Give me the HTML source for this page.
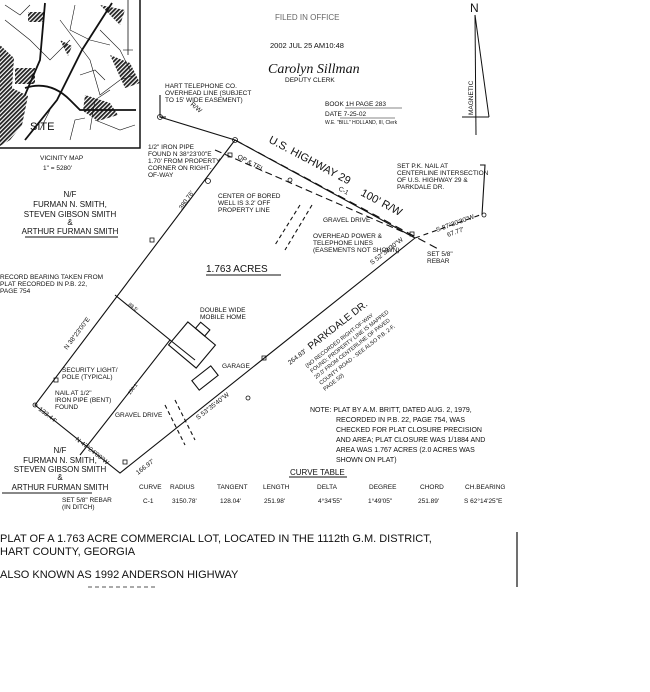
<!DOCTYPE html>
<html><head><meta charset="utf-8"><style>
html,body{margin:0;padding:0;background:#fff;}
svg{display:block;font-family:"Liberation Sans",sans-serif;}
text{fill:#111;}
.s{font-size:6.5px;}
.m{font-size:8px;}
</style></head><body>
<svg width="650" height="692" viewBox="0 0 650 692" xmlns="http://www.w3.org/2000/svg">
<defs><pattern id="h" width="3" height="3" patternUnits="userSpaceOnUse" patternTransform="rotate(45)"><rect width="3" height="3" fill="#fff"/><rect width="1.8" height="3" fill="#222"/></pattern></defs>
<!-- vicinity map -->
<g stroke="#111" fill="none">
<rect x="-2" y="-2" width="142" height="150" stroke-width="1.5"/>
<path d="M0 45 L14 58 L12 88 L28 96 L22 125 L10 140 L0 146 Z" fill="url(#h)" stroke="none"/>
<path d="M15 68 h20 v16 h-20z M28 12 h16 v10 h-16z M85 95 l25 8 l8 12 l-20 6 l-15 -10z" fill="url(#h)" stroke="none"/>
<path d="M110 55 l20 8 l10 20 l-15 5 z M100 5 l25 5 l-5 15 z M60 40 l12 6 l-4 10z" fill="url(#h)" stroke="none"/>
<g stroke-width="1.8"><path d="M112 3 L82 50 L57 100 L25 140"/><path d="M25 88 Q50 80 70 100 L80 110 L136 110"/><path d="M45 3 L40 60 L25 95"/></g>
<g stroke-width="0.6"><path d="M60 20 L90 60 L100 95 L120 80 L135 75"/><path d="M5 20 L30 40 L50 60 L70 40"/><path d="M90 130 L95 100 L110 90"/><path d="M70 140 L75 120 L85 118"/><path d="M100 30 L120 50 L130 70"/><path d="M50 110 L40 130"/><path d="M75 5 L70 30 L90 40 L110 45"/><path d="M5 5 L20 15 L30 5"/><path d="M95 120 L120 130 L135 125"/><path d="M80 75 L95 70 L105 80"/></g>
<line x1="128" y1="0" x2="128" y2="55" stroke-width="0.8"/><line x1="123" y1="50" x2="133" y2="50" stroke-width="0.6"/>
</g>
<text x="30" y="130" style="font-size:11px">SITE</text>
<text x="40" y="160" class="s">VICINITY MAP</text>
<text x="43" y="170" class="s">1" = 5280'</text>
<g class="m" text-anchor="middle"><text x="70" y="197">N/F</text><text x="70" y="207">FURMAN N. SMITH,</text><text x="70" y="217">STEVEN GIBSON SMITH</text><text x="70" y="225">&amp;</text><text x="70" y="234">ARTHUR FURMAN SMITH</text></g>
<line x1="25" y1="237" x2="118" y2="237" stroke="#111"/>
<!-- stamp -->
<text x="275" y="20" style="font-size:8px;fill:#666">FILED IN OFFICE</text>
<text x="270" y="48" style="font-size:7.5px">2002 JUL 25 AM10:48</text>
<text x="268" y="73" style="font-size:14px;font-family:'Liberation Serif',serif;font-style:italic">Carolyn Sillman</text>
<text x="285" y="82" class="s">DEPUTY CLERK</text>
<text x="325" y="106" class="s">BOOK 1H PAGE 283</text>
<text x="325" y="116" class="s">DATE 7-25-02</text>
<text x="325" y="124" style="font-size:5px">W.E. "BILL" HOLLAND, III, Clerk</text>
<line x1="345" y1="108" x2="402" y2="108" stroke="#111" stroke-width=".6"/><line x1="340" y1="118" x2="395" y2="118" stroke="#111" stroke-width=".6"/>
<!-- north arrow -->
<g stroke="#111" fill="none" stroke-width="1"><line x1="475" y1="15" x2="476" y2="135"/><line x1="475" y1="15" x2="489" y2="117"/><line x1="462" y1="117" x2="489" y2="117"/></g>
<text x="470" y="12" style="font-size:12px">N</text>
<text transform="translate(473,115) rotate(-90)" class="s">MAGNETIC</text>
<!-- lot lines -->
<g stroke="#111" fill="none" stroke-width="1.1">
<path d="M235 140 L35 405 L120 473 L415 238"/>
<path d="M235 140 L415 238"/>
<path d="M160 117 L235 140"/>
<path d="M235 140 L440 250" stroke-dasharray="8,5"/>
<path d="M215 150 L410 235" stroke-dasharray="7,4"/>
<path d="M415 238 L480 215" stroke-dasharray="5,4"/>
<path d="M115 295 L170 340 L80 455"/>
<path d="M170 340 L195 360"/>
<path d="M300 205 L275 245 M312 205 L285 250" stroke-dasharray="4,3"/>
<path d="M165 405 L185 445 M175 400 L195 440" stroke-dasharray="4,3"/>
<path d="M160 95 L160 117 L166 117"/>
<path d="M480 165 L485 165 L482 215"/>
<g transform="translate(192,345) rotate(40)"><rect x="-18" y="-15" width="36" height="30"/><rect x="-8" y="-23" width="12" height="8"/></g>
<g transform="translate(205,378) rotate(-38)"><rect x="-12" y="-6" width="24" height="12"/></g>
<g stroke-width=".8"><rect x="228" y="153" width="4" height="4"/><rect x="150" y="238" width="4" height="4"/><rect x="54" y="378" width="4" height="4"/><rect x="123" y="460" width="4" height="4"/><rect x="262" y="356" width="4" height="4"/><rect x="410" y="232" width="4" height="4"/>
<circle cx="235" cy="140" r="2.5"/><circle cx="160" cy="117" r="2.5"/><circle cx="208" cy="181" r="2.5"/><circle cx="290" cy="180" r="2"/><circle cx="35" cy="405" r="2"/><circle cx="248" cy="398" r="2"/><circle cx="484" cy="215" r="2"/></g>
</g>
<!-- highway labels -->
<text transform="translate(268,142) rotate(28)" style="font-size:11px">U.S. HIGHWAY 29</text>
<text transform="translate(360,195) rotate(28)" style="font-size:11px">100' R/W</text>
<text transform="translate(190,105) rotate(40)" class="s">R/W</text>
<text transform="translate(237,158) rotate(28)" class="s">OP &amp; TEL</text>
<text transform="translate(338,190) rotate(28)" class="s">C-1</text>
<text x="165" y="88" class="s">HART TELEPHONE CO.</text><text x="165" y="95" class="s">OVERHEAD LINE (SUBJECT</text><text x="165" y="102" class="s">TO 15' WIDE EASEMENT)</text>
<text x="148" y="149" class="s">1/2" IRON PIPE</text><text x="148" y="156" class="s">FOUND N 38°23'00"E</text><text x="148" y="163" class="s">1.70' FROM PROPERTY</text><text x="148" y="170" class="s">CORNER ON RIGHT-</text><text x="148" y="177" class="s">OF-WAY</text>
<text x="218" y="198" class="s">CENTER OF BORED</text><text x="218" y="205" class="s">WELL IS 3.2' OFF</text><text x="218" y="212" class="s">PROPERTY LINE</text>
<text transform="translate(182,210) rotate(-55)" class="s">380.76'</text>
<text x="206" y="272" style="font-size:10px">1.763 ACRES</text>
<line x1="206" y1="275" x2="281" y2="275" stroke="#111"/>
<text x="323" y="222" class="s">GRAVEL DRIVE</text>
<text x="313" y="238" class="s">OVERHEAD POWER &amp;</text><text x="313" y="245" class="s">TELEPHONE LINES</text><text x="313" y="252" class="s">(EASEMENTS NOT SHOWN)</text>
<text x="397" y="168" class="s">SET P.K. NAIL AT</text><text x="397" y="175" class="s">CENTERLINE INTERSECTION</text><text x="397" y="182" class="s">OF U.S. HIGHWAY 29 &amp;</text><text x="397" y="189" class="s">PARKDALE DR.</text>
<text transform="translate(437,232) rotate(-20)" class="s">S 87°30'30"W</text>
<text transform="translate(448,237) rotate(-20)" class="s">67.77'</text>
<text x="427" y="256" class="s">SET 5/8"</text><text x="427" y="263" class="s">REBAR</text>
<!-- left labels -->
<text x="0" y="279" class="s">RECORD BEARING TAKEN FROM</text><text x="0" y="286" class="s">PLAT RECORDED IN P.B. 22,</text><text x="0" y="293" class="s">PAGE 754</text>
<text transform="translate(67,350) rotate(-53)" class="s">N 38°23'00"E</text>
<text transform="translate(128,305) rotate(38)" style="font-size:5px">88.5'</text>
<text transform="translate(130,395) rotate(-52)" style="font-size:5px">156.1'</text>
<text x="200" y="312" class="s">DOUBLE WIDE</text><text x="200" y="319" class="s">MOBILE HOME</text>
<text x="222" y="368" class="s">GARAGE</text>
<text x="62" y="372" class="s">SECURITY LIGHT/</text><text x="62" y="379" class="s">POLE (TYPICAL)</text>
<text x="55" y="395" class="s">NAIL AT 1/2"</text><text x="55" y="402" class="s">IRON PIPE (BENT)</text><text x="55" y="409" class="s">FOUND</text>
<text transform="translate(38,410) rotate(38)" class="s">133.44'</text>
<text transform="translate(75,440) rotate(38)" class="s">N 47°24'00"W</text>
<text x="115" y="417" class="s">GRAVEL DRIVE</text>
<text transform="translate(198,420) rotate(-38)" class="s">S 53°35'40"W</text>
<text transform="translate(138,475) rotate(-38)" class="s">166.97'</text>
<text transform="translate(290,365) rotate(-38)" class="s">264.83'</text>
<text transform="translate(372,265) rotate(-38)" class="s">S 52°38'30"W</text>
<text transform="translate(311,350) rotate(-38)" style="font-size:10px">PARKDALE DR.</text>
<g style="font-size:5.5px"><text transform="translate(307,368) rotate(-38)">(NO RECORDED RIGHT-OF-WAY</text><text transform="translate(312,373) rotate(-38)">FOUND; PROPERTY LINE IS MAPPED</text><text transform="translate(316,379) rotate(-38)">20.0' FROM CENTERLINE OF PAVED</text><text transform="translate(321,385) rotate(-38)">COUNTY ROAD - SEE ALSO P.B. 2-F,</text><text transform="translate(325,391) rotate(-38)">PAGE 50)</text></g>
<g class="m" text-anchor="middle"><text x="60" y="453">N/F</text><text x="60" y="463">FURMAN N. SMITH,</text><text x="60" y="472">STEVEN GIBSON SMITH</text><text x="60" y="480">&amp;</text><text x="60" y="490">ARTHUR FURMAN SMITH</text></g>
<line x1="2" y1="493" x2="92" y2="493" stroke="#111"/>
<text x="62" y="502" class="s">SET 5/8" REBAR</text><text x="62" y="509" class="s">(IN DITCH)</text>
<!-- note -->
<g style="font-size:7px"><text x="310" y="412">NOTE: PLAT BY A.M. BRITT, DATED AUG. 2, 1979,</text><text x="336" y="422">RECORDED IN P.B. 22, PAGE 754, WAS</text><text x="336" y="432">CHECKED FOR PLAT CLOSURE PRECISION</text><text x="336" y="442">AND AREA; PLAT CLOSURE WAS 1/1884 AND</text><text x="336" y="452">AREA WAS 1.767 ACRES (2.0 ACRES WAS</text><text x="336" y="462">SHOWN ON PLAT)</text></g>
<text x="290" y="475" class="m">CURVE TABLE</text><line x1="289" y1="477" x2="347" y2="477" stroke="#111"/>
<g class="s"><text x="139" y="489">CURVE</text><text x="170" y="489">RADIUS</text><text x="217" y="489">TANGENT</text><text x="263" y="489">LENGTH</text><text x="317" y="489">DELTA</text><text x="369" y="489">DEGREE</text><text x="420" y="489">CHORD</text><text x="465" y="489">CH.BEARING</text>
<text x="143" y="503">C-1</text><text x="172" y="503">3150.78'</text><text x="220" y="503">128.04'</text><text x="264" y="503">251.98'</text><text x="318" y="503">4°34'55"</text><text x="368" y="503">1°49'05"</text><text x="418" y="503">251.89'</text><text x="464" y="503">S 62°14'25"E</text></g>
<!-- title -->
<g style="font-size:11px"><text x="0" y="542">PLAT OF A 1.763 ACRE COMMERCIAL LOT, LOCATED IN THE 1112th G.M. DISTRICT,</text><text x="0" y="555">HART COUNTY, GEORGIA</text><text x="0" y="578">ALSO KNOWN AS 1992 ANDERSON HIGHWAY</text></g>
<line x1="88" y1="587" x2="158" y2="587" stroke="#555" stroke-dasharray="4,3"/>
<line x1="517" y1="532" x2="517" y2="587" stroke="#111" stroke-width="1.2"/>
</svg>
</body></html>
